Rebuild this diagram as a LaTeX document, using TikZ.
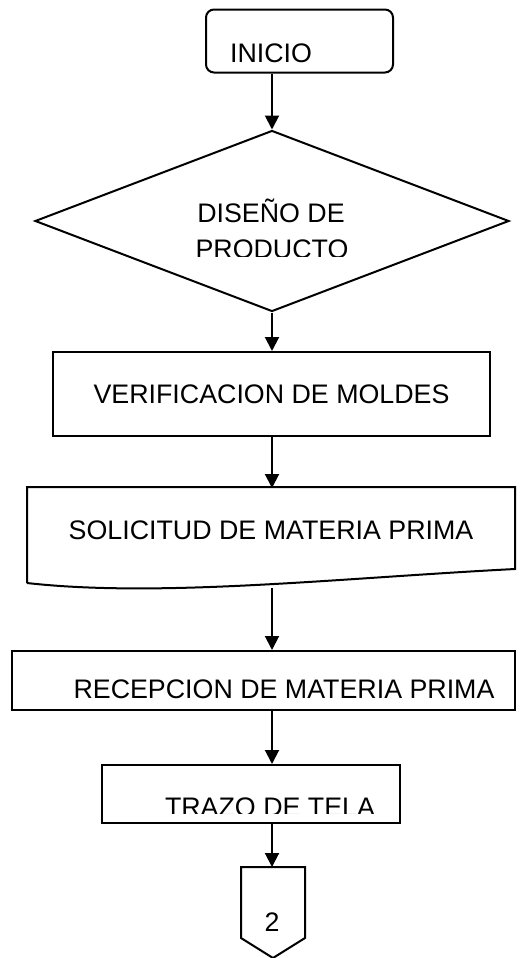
\documentclass[tikz,border=0pt]{standalone}
\usepackage{fontspec}
\setmainfont{Liberation Sans}
\usetikzlibrary{positioning, calc, arrows.meta, shapes.geometric}

\begin{document}
\begin{tikzpicture}[x=0.5pt, y=-0.5pt, line width=1pt,
    flecha/.style={-{Triangle[length=7pt,width=7pt]}},
    caja/.style={draw, rectangle, inner sep=0pt},
    texto/.style={font=\fontsize{13.4}{19.5}\selectfont, inner sep=0pt}]

    % Frame
    \useasboundingbox (0,0) rectangle (521,958);

    % Start
    \node[caja, rounded corners=4pt, minimum width=93.5pt, minimum height=31.5pt] (inicio) at (299.5,41) {};
    \node[texto, anchor=base] (inicio-txt) at (271,62) {INICIO};

    % Decision
    \node[draw, diamond, inner sep=0pt, minimum width=237pt, minimum height=90.5pt] (diseno) at (272,221) {};
    \begin{scope}
        \clip (35,130) rectangle (509,256);
        \node[texto, anchor=base] (diseno-txt1) at (271,222) {DISEÑO DE};
        \node[texto, anchor=base] (diseno-txt2) at (272,258) {PRODUCTO};
    \end{scope}

    % Process
    \node[caja, texto, minimum width=218.5pt, minimum height=42pt] (verificacion) at (271.5,394) {VERIFICACION DE MOLDES};

    % Document
    \node[texto, minimum width=244pt, minimum height=41pt] (solicitud) at (271,530) {SOLICITUD DE MATERIA PRIMA};
    \draw (27,583) -- (27,487) -- (515,487) -- (515,569)
        .. controls (340,578) and (160,598) .. (27,583);
    \coordinate (ola) at (272,588);

    % Input
    \node[caja, minimum width=251.5pt, minimum height=29.5pt] (recepcion) at (263.5,680.5) {};
    \node[texto, anchor=base] (recepcion-txt) at (284,698) {RECEPCION DE MATERIA PRIMA};

    % Cutting
    \node[caja, minimum width=149pt, minimum height=29pt] (trazo) at (251,794) {};
    \begin{scope}
        \clip (102,765) rectangle (400,813);
        \node[texto, anchor=base] (trazo-txt) at (270,816) {TRAZO DE TELA};
    \end{scope}

    % Off-page connector
    \node[minimum width=31pt, minimum height=34.5pt, inner sep=0pt] (conector) at (273,902.5) {};
    \draw (conector.south west) -- (conector.north west) -- (conector.north east)
        -- (conector.south east) -- (273,958) -- cycle;
    \node[texto, anchor=base] (conector-txt) at (272,931) {2};

    % Arrows
    \draw[flecha] (diseno.north |- inicio.south) -- (diseno.north);
    \draw[flecha] (diseno.south) -- (diseno.south |- verificacion.north);
    \draw[flecha] (ola |- verificacion.south) -- (ola |- solicitud.north);
    \draw[flecha] (ola) -- (ola |- recepcion.north);
    \draw[flecha] (ola |- recepcion.south) -- (ola |- trazo.north);
    \draw[flecha] (ola |- trazo.south) -- (ola |- conector.north);

\end{tikzpicture}
\end{document}
